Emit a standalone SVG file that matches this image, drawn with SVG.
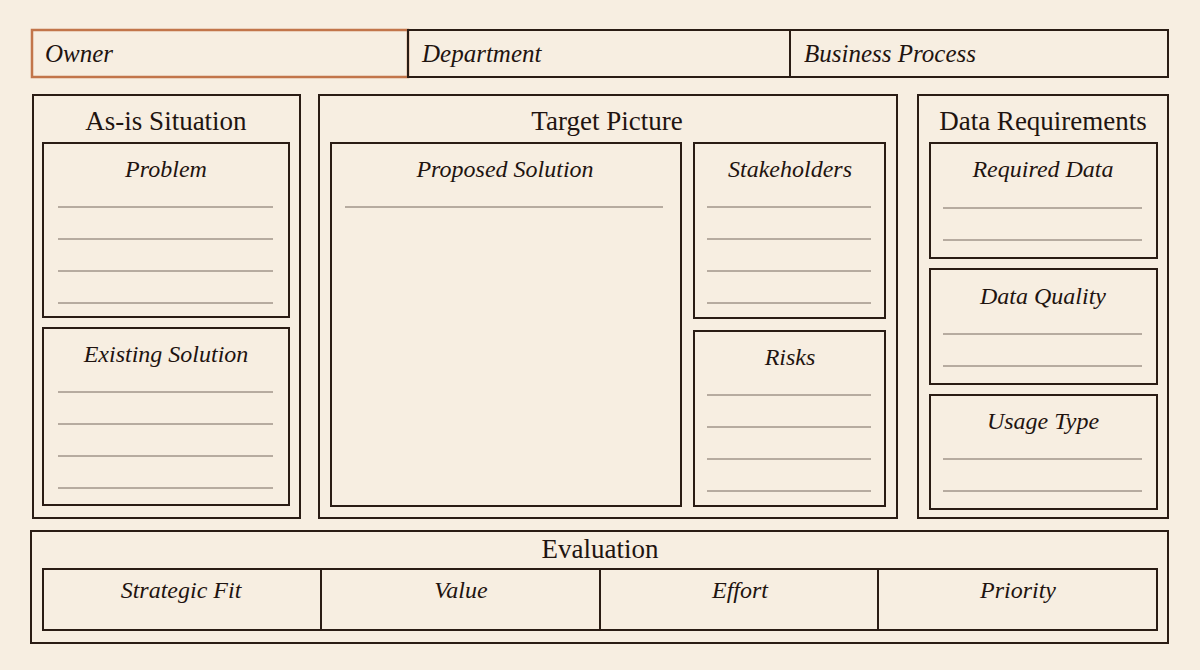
<svg xmlns="http://www.w3.org/2000/svg" width="1200" height="670" viewBox="0 0 1200 670">
<defs>
<style>
.bg{fill:#f7eee1}
.box{fill:none;stroke:#2a1c14;stroke-width:2}
.owner{fill:none;stroke:#c2754a;stroke-width:2.5}
.rule{stroke:#77695f;stroke-width:1}
.title{font-family:"Liberation Serif",serif;font-size:27px;fill:#1f1410;text-anchor:middle}
.lbl{font-family:"Liberation Serif",serif;font-style:italic;font-size:24px;fill:#1f1410;text-anchor:middle}
.hdr{font-family:"Liberation Serif",serif;font-style:italic;font-size:25px;fill:#1f1410}
</style>
</defs>
<rect class="bg" x="0" y="0" width="1200" height="670"/>

<g id="header">
<g id="owner"><rect class="owner" x="32" y="30" width="376" height="47"/><text class="hdr" x="45" y="62">Owner</text></g>
<g id="department"><rect class="box" x="408" y="30" width="382" height="47"/><text class="hdr" x="422" y="62">Department</text></g>
<g id="business-process"><rect class="box" x="790" y="30" width="378" height="47"/><text class="hdr" x="804" y="62">Business Process</text></g>
</g>

<g id="as-is">
<rect class="box" x="33" y="95" width="267" height="423"/>
<text class="title" x="166" y="130">As-is Situation</text>
<g id="problem">
<rect class="box" x="43" y="143" width="246" height="174"/>
<text class="lbl" x="166" y="177">Problem</text>
<line class="rule" x1="58" y1="207" x2="273" y2="207"/>
<line class="rule" x1="58" y1="239" x2="273" y2="239"/>
<line class="rule" x1="58" y1="271" x2="273" y2="271"/>
<line class="rule" x1="58" y1="303" x2="273" y2="303"/>
</g>
<g id="existing-solution">
<rect class="box" x="43" y="328" width="246" height="177"/>
<text class="lbl" x="166" y="362">Existing Solution</text>
<line class="rule" x1="58" y1="392" x2="273" y2="392"/>
<line class="rule" x1="58" y1="424" x2="273" y2="424"/>
<line class="rule" x1="58" y1="456" x2="273" y2="456"/>
<line class="rule" x1="58" y1="488" x2="273" y2="488"/>
</g>
</g>

<g id="target-picture">
<rect class="box" x="319" y="95" width="578" height="423"/>
<text class="title" x="607" y="130">Target Picture</text>
<g id="proposed-solution">
<rect class="box" x="331" y="143" width="350" height="363"/>
<text class="lbl" x="505" y="177">Proposed Solution</text>
<line class="rule" x1="345" y1="207" x2="663" y2="207"/>
</g>
<g id="stakeholders">
<rect class="box" x="694" y="143" width="191" height="175"/>
<text class="lbl" x="790" y="177">Stakeholders</text>
<line class="rule" x1="707" y1="207" x2="871" y2="207"/>
<line class="rule" x1="707" y1="239" x2="871" y2="239"/>
<line class="rule" x1="707" y1="271" x2="871" y2="271"/>
<line class="rule" x1="707" y1="303" x2="871" y2="303"/>
</g>
<g id="risks">
<rect class="box" x="694" y="331" width="191" height="175"/>
<text class="lbl" x="790" y="365">Risks</text>
<line class="rule" x1="707" y1="395" x2="871" y2="395"/>
<line class="rule" x1="707" y1="427" x2="871" y2="427"/>
<line class="rule" x1="707" y1="459" x2="871" y2="459"/>
<line class="rule" x1="707" y1="491" x2="871" y2="491"/>
</g>
</g>

<g id="data-requirements">
<rect class="box" x="918" y="95" width="250" height="423"/>
<text class="title" x="1043" y="130">Data Requirements</text>
<g id="required-data">
<rect class="box" x="930" y="143" width="227" height="115"/>
<text class="lbl" x="1043" y="177">Required Data</text>
<line class="rule" x1="943" y1="208" x2="1142" y2="208"/>
<line class="rule" x1="943" y1="240" x2="1142" y2="240"/>
</g>
<g id="data-quality">
<rect class="box" x="930" y="269" width="227" height="115"/>
<text class="lbl" x="1043" y="304">Data Quality</text>
<line class="rule" x1="943" y1="334" x2="1142" y2="334"/>
<line class="rule" x1="943" y1="366" x2="1142" y2="366"/>
</g>
<g id="usage-type">
<rect class="box" x="930" y="395" width="227" height="114"/>
<text class="lbl" x="1043" y="429">Usage Type</text>
<line class="rule" x1="943" y1="459" x2="1142" y2="459"/>
<line class="rule" x1="943" y1="491" x2="1142" y2="491"/>
</g>
</g>

<g id="evaluation">
<rect class="box" x="31" y="531" width="1137" height="112"/>
<text class="title" x="600" y="558">Evaluation</text>
<rect class="box" x="43" y="569" width="1114" height="61"/>
<line class="box" x1="321" y1="569" x2="321" y2="630"/>
<line class="box" x1="600" y1="569" x2="600" y2="630"/>
<line class="box" x1="878" y1="569" x2="878" y2="630"/>
<g id="strategic-fit"><text class="lbl" x="181" y="598">Strategic Fit</text></g>
<g id="value"><text class="lbl" x="461" y="598">Value</text></g>
<g id="effort"><text class="lbl" x="740" y="598">Effort</text></g>
<g id="priority"><text class="lbl" x="1018" y="598">Priority</text></g>
</g>

<g id="connectors"></g>
</svg>
